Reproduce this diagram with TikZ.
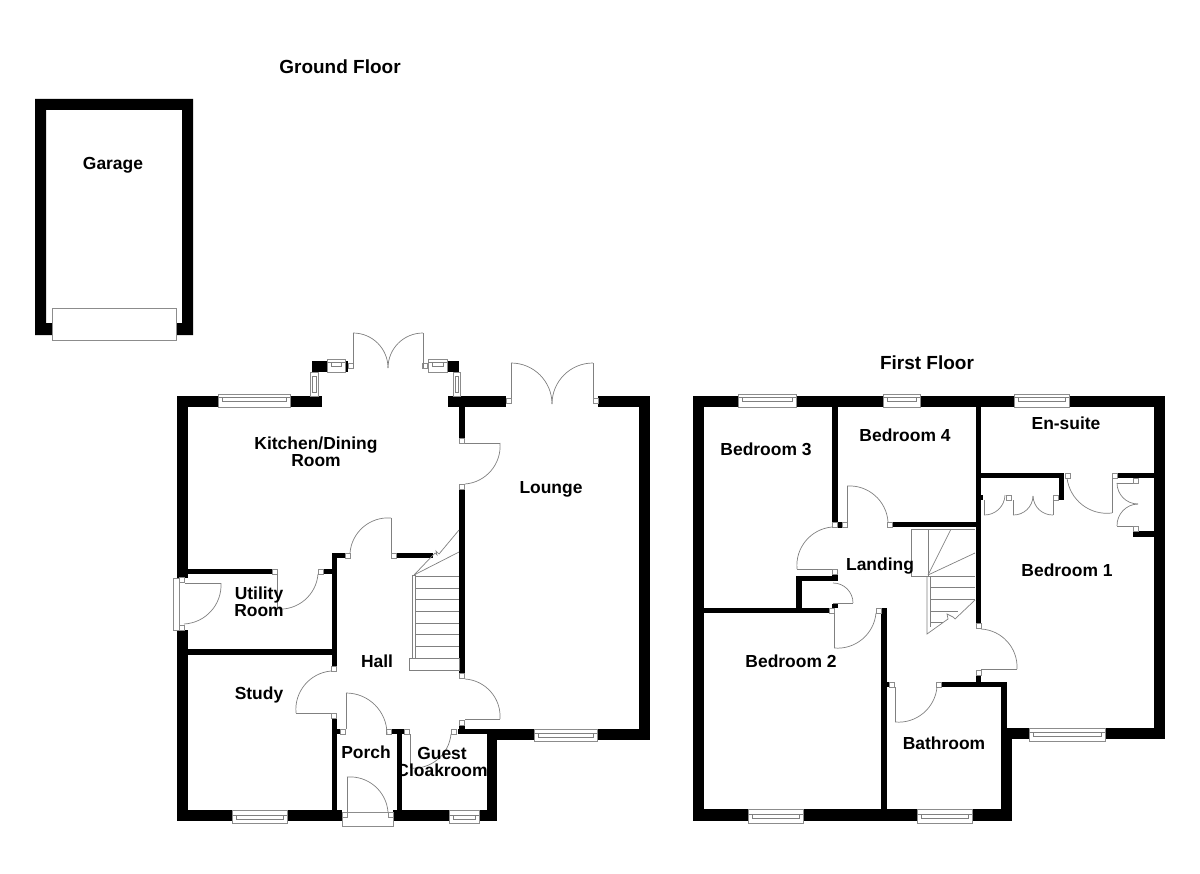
\documentclass[tikz,border=0pt]{standalone}
\usepackage{fontspec}
\setmainfont{Liberation Sans}
\usepackage{tikz}
\tikzstyle{wall} = [fill=black]
\tikzstyle{frame} = [draw=black!45, fill=white, line width=0.6pt]
\tikzstyle{leaf} = [draw=black!50, line width=0.5pt]
\tikzstyle{room} = [font=\fontsize{12.4}{12.2}\selectfont\bfseries, align=center, inner sep=0pt]
\tikzstyle{title} = [font=\fontsize{13.5}{15}\selectfont\bfseries, inner sep=0pt]
\newcommand{\jamb}[2]{\draw[frame] (#1,#2) rectangle ++(5.5,5.5);}
\newcommand{\winh}[5]{%
  \draw[frame] (#1,#3) rectangle (#2,#4);
  \draw[leaf] (#1,#5) -- (#2,#5);
  \draw[leaf] (#1+4,#5) rectangle (#2-4,#5+4);}
\newcommand{\winv}[4]{%
  \draw[frame] (#1,#3) rectangle (#2,#4);
  \draw[leaf] (#1+2,#3+4) rectangle (#2-2,#4-4);}

\begin{document}
\begin{tikzpicture}[x=0.025cm,y=-0.025cm]
  \useasboundingbox (0,0) rectangle (1200,873);

  % garage
  \fill[wall] (35,99) -- (193,99) -- (193,335) -- (176,335) -- (176,323) -- (182,323) -- (182,110)
    -- (46,110) -- (46,323) -- (52,323) -- (52,335) -- (35,335) -- cycle;
  \draw[frame] (52,308) rectangle (176,340);

  % ground floor, outer walls
  \fill[wall] (177,396) rectangle (322,407);
  \fill[wall] (177,396) rectangle (188,578);
  \fill[wall] (177,630) rectangle (188,821);
  \fill[wall] (177,810) rectangle (342,821);
  \fill[wall] (393,810) rectangle (497,821);
  \fill[wall] (487,734) rectangle (497,821);
  \fill[wall] (458,729) rectangle (487,734);
  \fill[wall] (487,729) rectangle (650,740);
  \fill[wall] (639,396) rectangle (650,740);
  \fill[wall] (598,396) rectangle (650,407);
  \fill[wall] (448,396) rectangle (506,407);
  \fill[wall] (312,361) rectangle (348,372);
  \fill[wall] (428,361) rectangle (459,372);

  % ground floor, inner walls
  \fill[wall] (459,407) rectangle (465,438);
  \fill[wall] (459,489) rectangle (465,673);
  \fill[wall] (459,725) rectangle (465,729);
  \fill[wall] (188,569) rectangle (272,574);
  \fill[wall] (323,569) rectangle (337,574);
  \fill[wall] (188,649) rectangle (337,655);
  \fill[wall] (332,553) rectangle (337,666);
  \fill[wall] (332,553) rectangle (345,558);
  \fill[wall] (396,553) rectangle (433,558);
  \fill[wall] (332,718) rectangle (337,810);
  \fill[wall] (337,729) rectangle (340,734);
  \fill[wall] (392,729) rectangle (404,734);
  \fill[wall] (397,734) rectangle (402,810);

  % ground floor, windows
  \winh{218}{290}{394}{407}{397}
  \winh{534}{597}{729}{741}{733}
  \winh{232}{287}{810}{823}{815}
  \winh{449}{479}{810}{823}{815}
  \winh{327}{345}{359}{372}{362}
  \winh{428}{447}{359}{372}{362}
  \winv{310}{318}{372}{396}
  \winv{453}{460}{372}{396}
  \draw[frame] (173,578) rectangle (179,630);
  \draw[frame] (342,812) rectangle (393,826);

  % ground floor, door jambs
  \jamb{348}{363} \jamb{422}{363}
  \jamb{506}{398} \jamb{593}{398}
  \jamb{459}{438} \jamb{459}{484}
  \jamb{345}{553} \jamb{391}{553}
  \jamb{272}{569} \jamb{318}{569}
  \jamb{179}{577} \jamb{179}{625}
  \jamb{331}{666} \jamb{331}{713}
  \jamb{459}{673} \jamb{459}{720}
  \jamb{340}{729} \jamb{386}{729}
  \jamb{404}{729} \jamb{451}{729}
  \jamb{342}{812} \jamb{388}{812}

  % ground floor, doors
  \path[leaf] (353,368) -- (353,333); \path[leaf] (423,368) -- (423,333);
  \path[leaf] (353,333) edge[bend left=45] (388,368);
  \path[leaf] (423,333) edge[bend right=45] (388,368);
  \path[leaf] (511,398) -- (511,363); \path[leaf] (593,398) -- (593,363);
  \path[leaf] (511,363) edge[bend left=45] (552,404);
  \path[leaf] (593,363) edge[bend right=45] (552,404);
  \path[leaf] (465,443) -- (500,443);
  \path[leaf] (500,443) edge[bend left=45] (465,484);
  \path[leaf] (391,553) -- (391,518);
  \path[leaf] (350,553) edge[bend left=45] (391,518);
  \path[leaf] (277,574) -- (277,609);
  \path[leaf] (277,609) edge[bend right=45] (318,574);
  \path[leaf] (185,583) -- (221,583);
  \path[leaf] (221,583) edge[bend left=45] (184,624);
  \path[leaf] (296,713) -- (331,713);
  \path[leaf] (296,713) edge[bend left=45] (331,671);
  \path[leaf] (465,719) -- (500,719);
  \path[leaf] (465,679) edge[bend left=45] (500,719);
  \path[leaf] (346,729) -- (346,693);
  \path[leaf] (346,693) edge[bend left=45] (387,734);
  \path[leaf] (347,812) -- (347,777);
  \path[leaf] (347,777) edge[bend left=45] (388,812);
  \path[leaf] (410,734) -- (410,768);
  \path[leaf] (410,768) edge[bend right=45] (451,734);

  % ground floor, stairs
  \draw[leaf] (409,658) rectangle (459,670);
  \draw[leaf] (412,575) rectangle (415,658);
  \foreach \treadY in {576,588,599,611,623,634,646,658}
    \draw[leaf] (415,\treadY) -- (459,\treadY);
  \draw[leaf] (414,575) -- (435,553) -- (437,555) -- (436,551) -- (439,554) -- (459,530);
  \draw[leaf] (414,575) -- (459,552);

  % first floor, outer walls
  \fill[wall] (693,396) rectangle (1165,407);
  \fill[wall] (693,396) rectangle (704,821);
  \fill[wall] (693,809) rectangle (1012,821);
  \fill[wall] (1001,682) rectangle (1007,821);
  \fill[wall] (1001,728) rectangle (1012,821);
  \fill[wall] (1001,728) rectangle (1165,739);
  \fill[wall] (1154,396) rectangle (1165,739);

  % first floor, inner walls
  \fill[wall] (976,407) rectangle (981,623);
  \fill[wall] (832,407) rectangle (838,522);
  \fill[wall] (838,522) rectangle (842,528);
  \fill[wall] (893,522) rectangle (976,527);
  \fill[wall] (704,608) rectangle (829,613);
  \fill[wall] (796,576) rectangle (802,608);
  \fill[wall] (796,576) rectangle (838,581);
  \fill[wall] (832,574) rectangle (838,581);
  \fill[wall] (832,604) rectangle (838,608);
  \fill[wall] (881,608) rectangle (887,809);
  \fill[wall] (887,682) rectangle (889,687);
  \fill[wall] (942,682) rectangle (1007,687);
  \fill[wall] (976,675) rectangle (981,682);
  \fill[wall] (981,473) rectangle (1064,478);
  \fill[wall] (1059,473) rectangle (1064,500);
  \fill[wall] (1117,473) rectangle (1154,478);
  \fill[wall] (1133,531) rectangle (1154,537);
  \fill[wall] (981,495) rectangle (983,500);
  \fill[wall] (1009,495) rectangle (1012,500);

  % first floor, windows
  \winh{738}{796}{394}{407}{397}
  \winh{883}{920}{394}{407}{397}
  \winh{1014}{1069}{394}{407}{397}
  \winh{748}{803}{809}{823}{814}
  \winh{917}{972}{809}{823}{814}
  \winh{1029}{1105}{728}{741}{732}

  % first floor, door jambs
  \jamb{832}{522} \jamb{842}{522} \jamb{887}{522}
  \jamb{832}{569}
  \jamb{829}{608} \jamb{876}{608}
  \jamb{976}{623} \jamb{976}{670}
  \jamb{889}{682} \jamb{936}{682}
  \jamb{1065}{473} \jamb{1112}{473}
  \jamb{1133}{478} \jamb{1133}{526}
  \jamb{1006}{495} \jamb{1053}{495}

  % first floor, doors
  \path[leaf] (797,569) -- (832,569);
  \path[leaf] (797,569) edge[bend left=45] (832,527);
  \path[leaf] (847,528) -- (847,486);
  \path[leaf] (847,486) edge[bend left=45] (888,522);
  \path[leaf] (834,613) -- (834,648);
  \path[leaf] (834,648) edge[bend right=45] (876,613);
  \path[leaf] (833,603) -- (853,603);
  \path[leaf] (853,603) edge[bend right=45] (833,583);
  \path[leaf] (981,669) -- (1017,669);
  \path[leaf] (981,629) edge[bend left=45] (1017,669);
  \path[leaf] (895,687) -- (895,722);
  \path[leaf] (895,722) edge[bend right=45] (937,687);
  \path[leaf] (1112,478) -- (1112,513);
  \path[leaf] (1067,478) edge[bend right=45] (1112,513);
  \path[leaf] (1117,483) -- (1133,483); \path[leaf] (1117,526) -- (1133,526);
  \path[leaf] (1117,483) edge[bend right=45] (1138,504);
  \path[leaf] (1117,526) edge[bend left=45] (1138,504);
  \path[leaf] (984,500) -- (984,515); \path[leaf] (1013,500) -- (1013,515);
  \path[leaf] (1053,500) -- (1053,515);
  \path[leaf] (984,515) edge[bend right=45] (1005,495);
  \path[leaf] (1013,515) edge[bend right=45] (1033,496);
  \path[leaf] (1053,515) edge[bend left=45] (1033,496);

  % first floor, stairs
  \draw[leaf] (911,576) -- (911,529) -- (975,529);
  \draw[leaf] (928,529) -- (928,576);
  \draw[leaf] (911,576) -- (975,576);
  \draw[leaf] (928,575) -- (951,529);
  \draw[leaf] (928,575) -- (975,553);
  \draw[leaf] (927,576) -- (927,634) -- (948,619) -- (947,614) -- (953,617) -- (955,619) -- (975,600);
  \draw[leaf] (930,576) -- (930,627);
  \foreach \treadY in {587,599}
    \draw[leaf] (930,\treadY) -- (975,\treadY);
  \draw[leaf] (930,611) -- (958,611);
  \draw[leaf] (930,622) -- (943,622);

  % labels
  \node[title] (ground_floor) at (340,67) {Ground Floor};
  \node[title] (first_floor) at (927,363) {First Floor};
  \node[room] (garage) at (113,165) {Garage};
  \node[room] (kitchen) at (316,452) {Kitchen/Dining\\Room};
  \node[room] (lounge) at (551,489) {Lounge};
  \node[room] (utility) at (259,602) {Utility\\Room};
  \node[room] (hall) at (377,661) {Hall};
  \node[room] (study) at (259,695) {Study};
  \node[room] (porch) at (366,752) {Porch};
  \node[room] (cloakroom) at (442,762) {Guest\\Cloakroom};
  \node[room] (bed_drei) at (766,449) {Bedroom 3};
  \node[room] (bed_vier) at (905,435) {Bedroom 4};
  \node[room] (ensuite) at (1066,423) {En-suite};
  \node[room] (landing) at (880,566) {Landing};
  \node[room] (bed_eins) at (1067,570) {Bedroom 1};
  \node[room] (bed_zwei) at (791,661) {Bedroom 2};
  \node[room] (bathroom) at (944,743) {Bathroom};
\end{tikzpicture}
\end{document}
